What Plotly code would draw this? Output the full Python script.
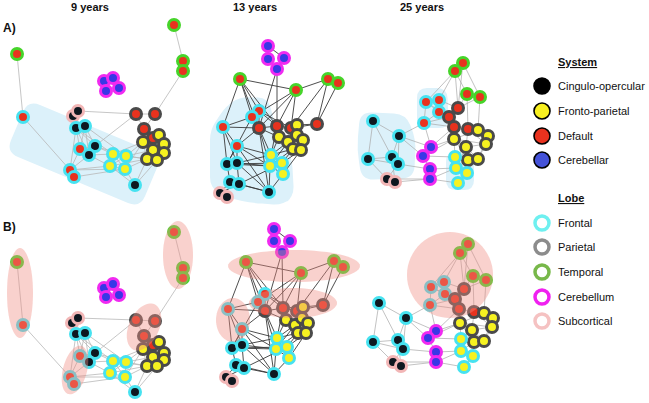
import math
import plotly.graph_objects as go

# ---------------- data ----------------
AGES = ["9 years", "13 years", "25 years"]

SYS_NAMES = ["Cingulo-opercular", "Fronto-parietal", "Default", "Cerebellar"]
LOBE_NAMES = ["Frontal", "Parietal", "Temporal", "Cerebellum", "Subcortical"]

# node attributes per age (system, lobe)
SYS_9 = ["D", "D", "D", "D", "Cb", "Cb", "Cb", "Cb", "D", "CO", "CO", "CO", "CO", "D", "D", "D", "D",
         "FP", "FP", "FP", "FP", "FP", "FP", "FP", "D", "CO", "CO", "FP", "FP", "FP", "FP", "D", "D", "CO"]
LOBE_9 = ["T", "T", "T", "T", "Cbm", "Cbm", "Cbm", "Cbm", "F", "S", "S", "F", "F", "P", "P", "P", "P",
          "P", "P", "P", "P", "P", "P", "P", "F", "F", "F", "F", "F", "F", "F", "F", "F", "F"]
SYS_13 = ["Cb"] * 4 + ["D"] * 4 + ["D"] * 4 + ["D"] * 4 + ["FP"] * 7 + ["FP"] * 4 + ["CO"] * 5 + ["CO"] * 2
LOBE_13 = ["Cbm"] * 4 + ["T"] * 4 + ["F"] * 4 + ["P"] * 4 + ["P"] * 7 + ["F"] * 4 + ["F"] * 5 + ["S"] * 2
SYS_25 = ["D"] * 4 + ["D"] * 4 + ["D"] * 4 + ["FP"] * 7 + ["Cb"] * 4 + ["FP"] * 4 + ["CO"] * 5 + ["CO"] * 2
LOBE_25 = ["T"] * 4 + ["F"] * 4 + ["P"] * 4 + ["P"] * 7 + ["Cbm"] * 4 + ["F"] * 4 + ["F"] * 5 + ["S"] * 2

# node positions (panel A and panel B)
XA9 = [17, 174, 183, 183, 104, 113, 106, 119, 23, 73, 78, 76, 85, 136, 155, 144, 153, 159, 164, 143, 153, 164,
       147, 157, 80, 95, 89, 113, 126, 110, 125, 70, 74, 135]
YA9 = [54, 25, 61, 71, 81, 78, 91, 88, 117, 116, 111, 128, 126, 114, 114, 129, 138, 135, 144, 142, 150, 153,
       159, 160, 149, 146, 155, 154, 156, 166, 169, 170, 177, 185]
XB9 = [17, 174, 183, 183, 104, 113, 106, 119, 23, 72, 78, 76, 85, 136, 155, 144, 153, 159, 164, 143, 153, 164,
       147, 157, 80, 95, 89, 113, 126, 110, 125, 70, 74, 135]
YB9 = [262, 232, 268, 278, 288, 284, 297, 295, 325, 323, 318, 334, 333, 320, 321, 336, 345, 342, 353, 349, 357,
       360, 366, 366, 356, 353, 362, 361, 362, 373, 377, 377, 384, 392]

XA13 = [268, 268, 284, 277, 240, 296, 328, 338, 259, 252, 223, 237, 259, 277, 291, 317, 297, 279, 288, 297, 303,
        293, 301, 271, 270, 282, 283, 227, 237, 230, 239, 269, 220, 227]
YA13 = [46, 59, 58, 69, 79, 90, 79, 83, 111, 117, 127, 146, 128, 126, 128, 124, 125, 137, 142, 135, 140, 149,
        150, 155, 166, 163, 174, 164, 163, 182, 184, 192, 193, 197]
XB13 = [274, 274, 290, 282, 246, 301, 334, 343, 265, 258, 228, 242, 265, 283, 297, 323, 303, 286, 295, 302, 308,
        298, 306, 277, 276, 287, 289, 232, 242, 236, 244, 274, 226, 232]
YB13 = [229, 241, 241, 252, 262, 273, 261, 267, 294, 302, 309, 329, 311, 308, 311, 305, 307, 320, 325, 318, 323,
        333, 333, 338, 349, 347, 358, 348, 345, 365, 368, 374, 377, 381]

XA25 = [463, 455, 467, 480, 426, 439, 439, 424, 458, 449, 454, 468, 478, 488, 454, 466, 486, 468, 478, 431, 423,
        430, 430, 455, 456, 467, 458, 373, 399, 368, 392, 398, 387, 395]
YA25 = [63, 71, 94, 97, 102, 100, 112, 123, 108, 117, 127, 129, 130, 136, 139, 147, 144, 160, 159, 147, 156,
        169, 179, 157, 168, 173, 183, 121, 136, 159, 157, 164, 179, 182]
XB25 = [468, 460, 473, 486, 431, 444, 445, 430, 464, 455, 459, 474, 484, 493, 460, 472, 492, 474, 484, 436, 428,
        436, 436, 461, 461, 473, 464, 379, 406, 373, 398, 403, 393, 401]
YB25 = [244, 253, 276, 280, 287, 282, 294, 305, 289, 299, 309, 312, 313, 318, 323, 330, 327, 342, 341, 331, 338,
        352, 362, 339, 351, 356, 367, 303, 318, 342, 340, 349, 362, 366]

EDGES_9 = [(0, 8), (8, 31), (1, 2), (2, 3), (3, 14), (10, 13), (9, 10), (11, 12), (11, 25), (11, 26), (12, 25),
           (12, 26), (11, 24), (12, 24), (24, 25), (24, 26), (25, 26), (24, 31), (26, 31), (31, 32), (11, 31),
           (25, 27), (25, 28), (26, 29), (26, 27), (27, 28), (27, 29), (28, 30), (29, 30), (27, 30), (28, 29),
           (31, 29), (31, 30), (32, 30), (30, 33), (29, 33), (27, 19), (28, 19), (28, 22), (30, 22), (29, 22),
           (30, 19), (33, 22), (33, 23), (25, 13), (13, 14), (13, 15), (14, 15), (15, 16), (16, 17), (17, 18),
           (19, 20), (20, 21), (22, 23), (19, 22), (20, 23), (21, 23), (18, 21), (16, 19), (15, 19), (17, 20),
           (18, 20), (28, 20), (27, 22), (12, 28), (11, 27)]
EDGES_13 = [(0, 1), (1, 3), (2, 3), (0, 2), (3, 13), (3, 12), (4, 8), (4, 12), (4, 10), (4, 9), (4, 5), (5, 6),
            (6, 7), (7, 15), (5, 12), (5, 9), (5, 13), (5, 14), (6, 14), (8, 9), (9, 10), (10, 12), (10, 11),
            (11, 12), (8, 12), (12, 13), (13, 14), (14, 15), (14, 16), (15, 16), (12, 17), (12, 23), (13, 17),
            (13, 18), (11, 27), (11, 28), (27, 28), (27, 29), (28, 30), (29, 30), (29, 32), (30, 32), (30, 31),
            (28, 23), (28, 24), (27, 24), (30, 25), (23, 24), (23, 25), (24, 26), (25, 26), (31, 26), (31, 24),
            (23, 17), (23, 18), (25, 21), (24, 21), (26, 22), (23, 21), (24, 18), (25, 22), (16, 19), (17, 18),
            (18, 19), (19, 20), (20, 22), (21, 22), (18, 21), (17, 21), (16, 20), (17, 19), (18, 20), (19, 21),
            (9, 27), (10, 28), (11, 31), (12, 31), (8, 13), (10, 27), (9, 12), (12, 24), (13, 23), (11, 23),
            (27, 25), (29, 31), (28, 31), (11, 24), (4, 13), (6, 15), (8, 14)]
EDGES_25 = [(0, 1), (1, 2), (0, 3), (1, 4), (2, 3), (2, 8), (3, 8), (1, 8), (0, 8), (1, 5), (4, 5), (4, 6),
            (5, 6), (6, 7), (4, 7), (5, 8), (6, 9), (7, 9), (8, 9), (9, 10), (10, 11), (11, 12), (12, 13),
            (14, 15), (15, 16), (13, 16), (15, 17), (17, 18), (16, 18), (10, 14), (11, 15), (12, 16), (14, 17),
            (15, 18), (13, 18), (12, 14), (11, 16), (14, 16), (27, 28), (27, 29), (28, 30), (28, 7), (28, 19),
            (29, 30), (30, 31), (31, 32), (29, 32), (30, 33), (33, 22), (22, 21), (21, 20), (20, 19), (19, 14),
            (19, 7), (20, 23), (21, 24), (22, 26), (23, 24), (24, 25), (25, 26), (23, 14), (24, 15), (29, 31),
            (31, 21), (28, 31), (27, 30), (7, 10), (6, 10), (9, 14), (19, 10), (20, 14), (23, 15), (24, 17),
            (32, 22), (28, 20), (4, 9), (2, 11), (3, 12), (22, 24)]

# ---------------- styles ----------------
SYS_COL = {"CO": "#0e1820", "FP": "#F6F220", "D": "#E8321E", "Cb": "#3838E6"}
LOBE_COL = {"F": "#46E2F0", "P": "#4a4a4a", "T": "#46D42A", "Cbm": "#F02AF0", "S": "#F2B6B6"}
LEG_SYS_COL = ["#000000", "#F8F020", "#E8321E", "#4452D8"]
LEG_LOBE_COL = ["#6EF0F0", "#8C8C8C", "#78B84A", "#F020F0", "#F5C2C2"]
FONT = "Liberation Sans, Arial, sans-serif"

fig = go.Figure()

panels = [
    (XA9, YA9, SYS_9, LOBE_9, EDGES_9, "#b8b8b8", 0.8),
    (XA13, YA13, SYS_13, LOBE_13, EDGES_13, "#3a3a3a", 0.9),
    (XA25, YA25, SYS_25, LOBE_25, EDGES_25, "#a8a8a8", 0.7),
    (XB9, YB9, SYS_9, LOBE_9, EDGES_9, "#b8b8b8", 0.8),
    (XB13, YB13, SYS_13, LOBE_13, EDGES_13, "#3a3a3a", 0.9),
    (XB25, YB25, SYS_25, LOBE_25, EDGES_25, "#a8a8a8", 0.7),
]

for xs, ys, sy, lb, ed, ecol, ew in panels:
    ex, ey = [], []
    for a, b in ed:
        ex += [xs[a], xs[b], None]
        ey += [ys[a], ys[b], None]
    fig.add_trace(go.Scatter(x=ex, y=ey, mode="lines", line=dict(color=ecol, width=ew),
                             hoverinfo="skip", showlegend=False))
    fig.add_trace(go.Scatter(
        x=xs, y=ys, mode="markers", hoverinfo="skip", showlegend=False,
        marker=dict(size=11, color=[SYS_COL[s] for s in sy],
                    line=dict(color=[LOBE_COL[l] for l in lb], width=3))))

# legend
LEG_X = 542
SYS_LEG_Y = [86, 111, 136, 160]
LOBE_LEG_Y = [223, 247, 272, 297, 321]
fig.add_trace(go.Scatter(x=[LEG_X] * 4, y=SYS_LEG_Y, mode="markers", hoverinfo="skip", showlegend=False,
                         marker=dict(size=16, color=LEG_SYS_COL, line=dict(color="#000", width=1.6))))
fig.add_trace(go.Scatter(x=[LEG_X] * 5, y=LOBE_LEG_Y, mode="markers", hoverinfo="skip", showlegend=False,
                         marker=dict(size=14, color="white", line=dict(color=LEG_LOBE_COL, width=3.5))))


# ---------------- shapes ----------------
def rounded_poly(pts, r):
    n = len(pts)
    segs = []
    for i in range(n):
        p = pts[i]
        a = pts[i - 1]
        b = pts[(i + 1) % n]
        da = math.hypot(a[0] - p[0], a[1] - p[1])
        db = math.hypot(b[0] - p[0], b[1] - p[1])
        p1 = (p[0] + (a[0] - p[0]) * r / da, p[1] + (a[1] - p[1]) * r / da)
        p2 = (p[0] + (b[0] - p[0]) * r / db, p[1] + (b[1] - p[1]) * r / db)
        segs.append((p1, p, p2))
    d = "M %.1f,%.1f " % segs[0][0]
    for i, (p1, p, p2) in enumerate(segs):
        if i > 0:
            d += "L %.1f,%.1f " % p1
        d += "Q %.1f,%.1f %.1f,%.1f " % (p[0], p[1], p2[0], p2[1])
    d += "Z"
    return d


def ellipse(cx, cy, rx, ry, rot_deg=0, n=60):
    th = math.radians(rot_deg)
    pts = []
    for k in range(n):
        t = 2 * math.pi * k / n
        ux, uy = rx * math.cos(t), ry * math.sin(t)
        pts.append((cx + ux * math.cos(th) - uy * math.sin(th), cy + ux * math.sin(th) + uy * math.cos(th)))
    return "M " + " L ".join("%.1f,%.1f" % p for p in pts) + " Z"


BLUE = "#DCF1FA"
blue_paths = [
    rounded_poly([(28, 100), (162, 156), (140, 208), (6, 152)], 13),
    rounded_poly([(240, 97), (268, 98), (276, 128), (292, 158), (294, 196), (283, 205), (252, 203),
                  (224, 197), (210, 187), (210, 130), (226, 106)], 10),
    rounded_poly([(360, 112), (406, 114), (416, 140), (414, 178), (362, 180), (357, 150)], 12),
    rounded_poly([(417, 88), (447, 88), (449, 128), (417, 128)], 10),
    rounded_poly([(446, 152), (474, 152), (474, 190), (446, 190)], 10),
]
shapes = [dict(type="path", path=p, fillcolor=BLUE, line=dict(width=0), layer="below") for p in blue_paths]

PINK = "rgba(240,140,130,0.40)"
pink_paths = [
    ellipse(20, 293, 13, 45),
    ellipse(178, 255, 15, 34),
    ellipse(144, 327, 15, 25, 25),
    ellipse(75, 370, 12, 25, 15),
    ellipse(294, 266, 66, 16),
    ellipse(293, 303, 44, 15),
    ellipse(233, 320, 17, 22),
    ellipse(450, 275, 43, 43),
]
shapes += [dict(type="path", path=p, fillcolor=PINK, line=dict(width=0), layer="above") for p in pink_paths]

# ---------------- text ----------------
ann = []
for lab, x in zip(AGES, [90, 255, 422]):
    ann.append(dict(x=x, y=7, text="<b>%s</b>" % lab, showarrow=False, xanchor="center", yanchor="middle",
                    font=dict(size=11, color="#111", family=FONT)))
ann.append(dict(x=1, y=28, text="<b>A)</b>", showarrow=False, xanchor="left", yanchor="middle",
                font=dict(size=12, color="#111", family=FONT)))
ann.append(dict(x=1, y=227, text="<b>B)</b>", showarrow=False, xanchor="left", yanchor="middle",
                font=dict(size=12, color="#111", family=FONT)))
ann.append(dict(x=577, y=62, text="<b><u>System</u></b>", showarrow=False, xanchor="center", yanchor="middle",
                font=dict(size=11, color="#111", family=FONT)))
ann.append(dict(x=571, y=198, text="<b><u>Lobe</u></b>", showarrow=False, xanchor="center", yanchor="middle",
                font=dict(size=11, color="#111", family=FONT)))
for lab, y in zip(SYS_NAMES, SYS_LEG_Y):
    ann.append(dict(x=556, y=y, text=lab, showarrow=False, xanchor="left", yanchor="middle",
                    font=dict(size=11, color="#111", family=FONT)))
for lab, y in zip(LOBE_NAMES, LOBE_LEG_Y):
    ann.append(dict(x=556, y=y, text=lab, showarrow=False, xanchor="left", yanchor="middle",
                    font=dict(size=11, color="#111", family=FONT)))

fig.update_layout(
    width=649, height=403, margin=dict(l=0, r=0, t=0, b=0),
    paper_bgcolor="white", plot_bgcolor="white", showlegend=False,
    xaxis=dict(range=[0, 649], visible=False, fixedrange=True),
    yaxis=dict(range=[403, 0], visible=False, fixedrange=True),
    shapes=shapes, annotations=ann,
)

fig.write_html("out.html", config={"displayModeBar": False},
               post_script="document.body.style.margin='0';document.body.style.overflow='hidden';")
